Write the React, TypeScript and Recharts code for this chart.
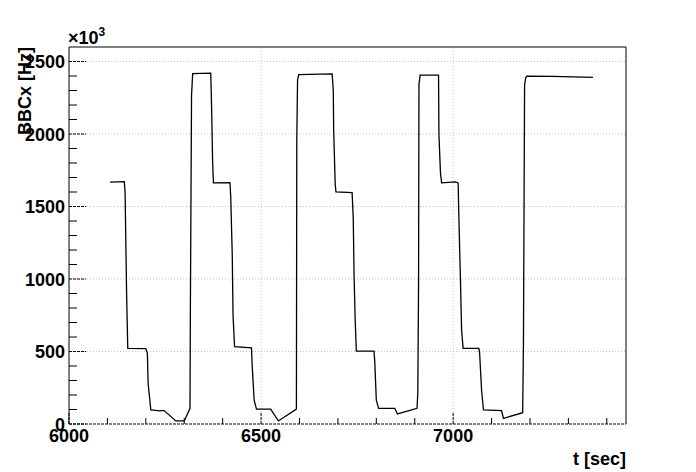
import { Label, Line, LineChart, ReferenceLine, XAxis, YAxis } from "recharts";

// BBCx rate vs time, values in units of 10^3 Hz
const TIME_SEC = [
  6107, 6144, 6146, 6150, 6153, 6200, 6204, 6206, 6213, 6237, 6247, 6278, 6300, 6315, 6316, 6319, 6322,
  6369, 6371, 6374, 6376, 6419, 6421, 6425, 6427, 6431, 6475, 6477, 6482, 6488, 6525, 6545, 6592, 6593,
  6595, 6598, 6685, 6688, 6689, 6693, 6695, 6737, 6740, 6742, 6745, 6748, 6794, 6796, 6800, 6806, 6848,
  6855, 6906, 6908, 6910, 6911, 6914, 6962, 6963, 6967, 6970, 7006, 7013, 7015, 7019, 7022, 7026, 7067,
  7069, 7074, 7079, 7126, 7131, 7181, 7183, 7186, 7189, 7192, 7260, 7364,
];
const BBCX_KHZ = [
  1668, 1672, 1600, 890, 522, 520, 487, 280, 97, 90, 94, 21, 21, 108, 810, 2268, 2417,
  2420, 2211, 1797, 1663, 1665, 1567, 1165, 751, 533, 525, 395, 165, 103, 103, 21, 103, 1962,
  2371, 2410, 2415, 2302, 2031, 1652, 1601, 1595, 1418, 1039, 717, 503, 503, 430, 165, 108, 108,
  69, 108, 214, 958, 2337, 2406, 2406, 1997, 1732, 1663, 1670, 1663, 1418, 997, 648, 522, 522,
  487, 234, 97, 93, 39, 78, 545, 2337, 2390, 2399, 2397, 2390,
];

const X_TICKS = [6000, 6100, 6200, 6300, 6400, 6500, 6600, 6700, 6800, 6900, 7000, 7100, 7200, 7300, 7400];
const X_LABELS = [6000, 6500, 7000];
const Y_TICKS = [
  0, 100, 200, 300, 400, 500, 600, 700, 800, 900, 1000, 1100, 1200, 1300, 1400, 1500, 1600, 1700, 1800,
  1900, 2000, 2100, 2200, 2300, 2400, 2500,
];
const Y_LABELS = [0, 500, 1000, 1500, 2000, 2500];
const GRID_X = [6500, 7000];
const GRID_Y = [500, 1000, 1500, 2000, 2500];
const X_MIN = 6000;
const X_MAX = 7450;
const Y_MAX = 2600;

const data = TIME_SEC.map((t, i) => ({ t, rate: BBCX_KHZ[i] }));

const FONT = {
  fontFamily: '"Liberation Sans", Arial, sans-serif',
  fontWeight: 700,
  fontSize: 18,
  fill: "#000",
};

function XTick({ x, y, payload }: any) {
  const major = X_LABELS.includes(payload.value);
  return (
    <g>
      <line
        x1={x}
        y1={y}
        x2={x}
        y2={y - (major ? 11 : 6)}
        stroke="#000"
        strokeDasharray={major ? "3 1" : undefined}
      />
      {major && (
        <text x={x} y={y + 18} textAnchor="middle" style={FONT}>
          {payload.value}
        </text>
      )}
    </g>
  );
}

function YTick({ x, y, payload }: any) {
  const major = Y_LABELS.includes(payload.value);
  return (
    <g>
      <line
        x1={x}
        y1={y}
        x2={x + (major ? 17 : 8)}
        y2={y}
        stroke="#000"
        strokeDasharray={major ? "3 1" : undefined}
      />
      {major && (
        <text x={x - 4} y={y + 6.5} textAnchor="end" style={FONT}>
          {payload.value}
        </text>
      )}
    </g>
  );
}

function YTitle({ viewBox }: any) {
  const x = viewBox.x + 31;
  const y = viewBox.y;
  return (
    <text x={x} y={y} transform={`rotate(-90 ${x} ${y})`} textAnchor="end" style={FONT}>
      BBCx [Hz]
    </text>
  );
}

function Exponent({ viewBox }: any) {
  return (
    <text x={viewBox.x + viewBox.width - 1} y={viewBox.y - 3} style={FONT}>
      ×10
      <tspan fontSize={12} dy={-8}>
        3
      </tspan>
    </text>
  );
}

function XTitle({ viewBox }: any) {
  return (
    <text x={viewBox.x + viewBox.width} y={viewBox.y + 41} textAnchor="end" style={FONT}>
      t [sec]
    </text>
  );
}

export default function App() {
  return (
    <div style={{ position: "absolute", left: 0, top: 0, width: 696, height: 472, background: "#fff" }}>
      <LineChart width={696} height={472} data={data} margin={{ top: 47, right: 70, bottom: 18, left: 0 }}>
        {GRID_X.map((v) => (
          <ReferenceLine key={`gx${v}`} x={v} stroke="#c4c4c4" strokeDasharray="1 2" />
        ))}
        {GRID_Y.map((v) => (
          <ReferenceLine key={`gy${v}`} y={v} stroke="#c4c4c4" strokeDasharray="1 2" />
        ))}
        <ReferenceLine y={Y_MAX} stroke="#000" />
        <ReferenceLine x={X_MAX} stroke="#000" />
        <XAxis
          dataKey="t"
          type="number"
          domain={[X_MIN, X_MAX]}
          ticks={X_TICKS}
          interval={0}
          allowDataOverflow
          height={30}
          tickSize={0}
          tickMargin={0}
          tick={<XTick />}
          axisLine={{ stroke: "#000", strokeDasharray: "3 1" }}
        >
          <Label content={<XTitle />} />
        </XAxis>
        <YAxis
          type="number"
          domain={[0, Y_MAX]}
          ticks={Y_TICKS}
          interval={0}
          allowDataOverflow
          width={69}
          tickSize={0}
          tickMargin={0}
          tick={<YTick />}
          axisLine={{ stroke: "#000" }}
        >
          <Label content={<YTitle />} />
          <Label content={<Exponent />} />
        </YAxis>
        <Line
          type="linear"
          dataKey="rate"
          stroke="#000"
          strokeWidth={1.3}
          dot={false}
          isAnimationActive={false}
        />
      </LineChart>
    </div>
  );
}
